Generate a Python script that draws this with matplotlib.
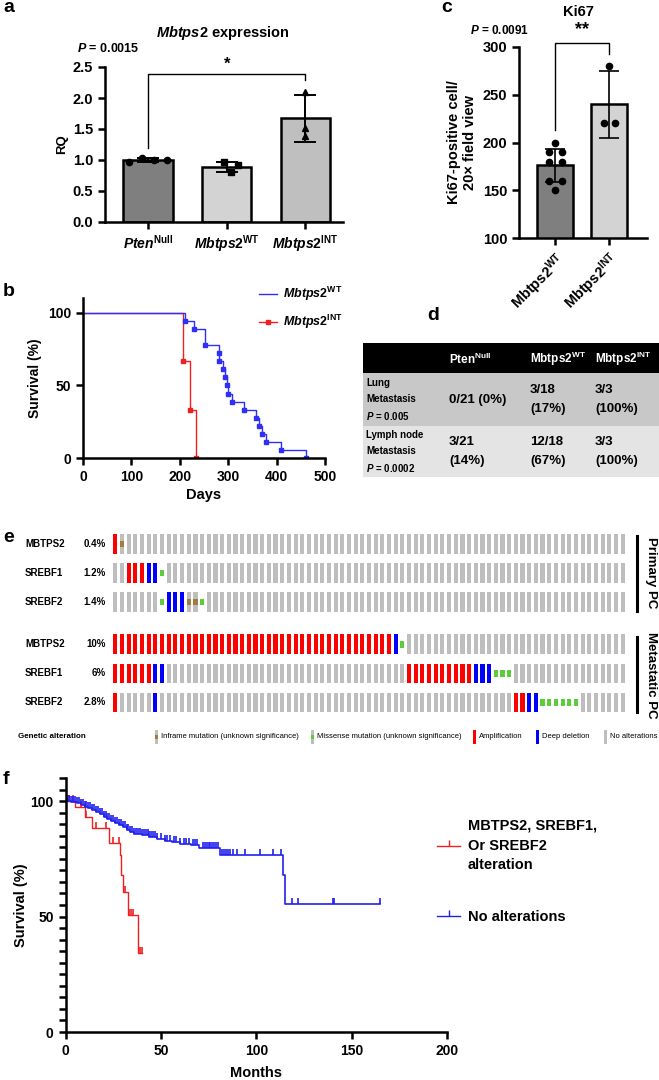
import matplotlib
matplotlib.use("Agg")
import matplotlib.pyplot as plt
import numpy as np
from matplotlib.patches import Rectangle
from matplotlib.lines import Line2D
from matplotlib.ticker import MultipleLocator

plt.rcParams['font.family'] = ['Liberation Sans', 'DejaVu Sans']
plt.rcParams['font.weight'] = 'bold'
plt.rcParams['axes.labelweight'] = 'bold'
plt.rcParams['mathtext.fontset'] = 'custom'
plt.rcParams['mathtext.rm'] = 'Liberation Sans'
plt.rcParams['mathtext.it'] = 'Liberation Sans:italic:bold'
plt.rcParams['mathtext.bf'] = 'Liberation Sans:bold'

# ---- data ----
# a: Mbtps2 expression (RQ)
a_labels = [r"$\mathit{Pten}^{\mathrm{Null}}$", r"$\mathit{Mbtps2}^{\mathrm{WT}}$", r"$\mathit{Mbtps2}^{\mathrm{INT}}$"]
a_means = [1.00, 0.89, 1.67]
a_sd = [0.03, 0.08, 0.38]
a_pts = [[0.96, 1.04, 1.00, 1.00], [0.96, 0.92, 0.80], [2.10, 1.51, 1.39]]

# c: Ki67
c_labels = [r"Mbtps2$^{\mathrm{WT}}$", r"Mbtps2$^{\mathrm{INT}}$"]
c_means = [176, 240]
c_sd = [17, 35]
c_pts = [[200, 190, 190, 180, 180, 160, 160, 150], [280, 220, 220]]

# b: mouse survival (days, %)
b_wt_t = [0, 211, 230, 252, 280, 282, 290, 293, 298, 300, 308, 333, 358, 364, 370, 378, 410, 460]
b_wt_s = [100, 94.4, 88.9, 77.8, 72.2, 66.7, 61.1, 55.6, 50.0, 44.4, 38.9, 33.3, 27.8, 22.2, 16.7, 11.1, 5.6, 0]
b_int_t = [0, 206, 221, 233]
b_int_s = [100, 66.7, 33.3, 0]

# d: metastasis table
d_cols = [r"$\mathbf{Pten}^{\mathbf{Null}}$", r"$\mathbf{Mbtps2}^{\mathbf{WT}}$", r"$\mathbf{Mbtps2}^{\mathbf{INT}}$"]
d_rows = [["Lung", "Metastasis", r"$\mathit{P}$ = 0.005"],
          ["Lymph node", "Metastasis", r"$\mathit{P}$ = 0.0002"]]
d_cells = [["0/21 (0%)", "3/18\n(17%)", "3/3\n(100%)"],
           ["3/21\n(14%)", "12/18\n(67%)", "3/3\n(100%)"]]

# e: oncoprint
onc_genes = ["MBTPS2", "SREBF1", "SREBF2", "MBTPS2", "SREBF1", "SREBF2"]
onc_pct = ["0.4%", "1.2%", "1.4%", "10%", "6%", "2.8%"]
n_samples = 77
onc_amp = [[0], [2, 3, 4], [], list(range(0, 42)), list(range(0, 6)) + list(range(44, 54)), [0, 60, 61]]
onc_del = [[], [5, 6], [8, 9, 10], [42], [6, 7, 54, 55, 56], [6, 62, 63]]
onc_mis = [[], [7], [7, 13], [43], [57, 58, 59], [64, 65, 66, 67, 68, 69]]
onc_inf = [[1], [], [11, 12], [], [], []]
onc_legend = ["Inframe mutation (unknown significance)", "Missense mutation (unknown significance)",
              "Amplification", "Deep deletion", "No alterations"]

# f: patient survival (months, %)
f_alt_t = [0, 5, 10, 14, 23, 28.5, 29, 30, 33, 38, 40]
f_alt_s = [100, 97.3, 93.2, 88.2, 82, 76.5, 68, 60.8, 50.6, 34, 34]
f_alt_c = [2, 4, 8, 11, 16, 21, 25, 28, 31, 33.5, 34.5, 35.5, 39, 40]
f_no_t = [0, 3, 6, 8, 10, 12, 14, 16, 18, 20, 22, 24, 26, 28, 30, 32, 34, 36, 40, 44, 48, 52, 56,
          60, 66, 70, 81, 114, 115, 165]
f_no_s = [100, 99.5, 99, 98.3, 97.5, 96.8, 96, 95.2, 94.3, 93.3, 92.4, 91.5, 90.5, 89.5, 88.6, 87.5,
          86.5, 85.8, 85.3, 84.5, 83.6, 82.8, 82.4, 81.6, 81.2, 79.5, 76.6, 67.9, 55.6, 55.6]
f_no_c = [1, 2, 3, 4, 5, 6, 7, 8, 9, 10, 11, 12, 13, 14, 15, 16, 17, 18, 19, 20, 21, 22, 23, 24, 25,
          26, 27, 28, 29, 30, 31, 32, 33, 34, 35, 36, 37, 38, 39, 40, 41, 42, 43, 44, 45, 46, 47, 48,
          50, 52, 53, 55, 57, 58, 60, 62, 63, 65, 67, 68, 69, 72, 73, 74, 75, 76, 77, 78, 79, 80, 82,
          83, 84, 85, 86, 88, 90, 94, 102, 109, 113, 119, 122, 140, 141, 165]

# ---- layout helpers ----
W, H = 659, 1080
fig = plt.figure(figsize=(W / 100, H / 100), dpi=100)


def box(l, t, r, b):
    return [l / W, 1 - b / H, (r - l) / W, (b - t) / H]


def style(ax, lw=1.8):
    for s in ['top', 'right']:
        ax.spines[s].set_visible(False)
    for s in ['left', 'bottom']:
        ax.spines[s].set_linewidth(lw)
    ax.tick_params(width=lw, length=5, direction='out')


ov = fig.add_axes([0, 0, 1, 1])
ov.set_xlim(0, W)
ov.set_ylim(H, 0)
ov.axis('off')
ov.patch.set_alpha(0)

for letter, (lx, ly) in zip("abcdef", [(3, 8), (3, 291), (441, 7), (427, 315), (3, 537), (3, 779)]):
    ov.text(lx, ly, letter, fontsize=14, fontweight='bold', va='center', ha='left')

# ---- a ----
axa = fig.add_axes(box(105, 67, 343, 222))
style(axa)
xa = np.arange(len(a_means))
axa.bar(xa, a_means, width=0.63, color=['#7f7f7f', '#d3d3d3', '#bfbfbf'], edgecolor='black',
        linewidth=1.8, zorder=2)
axa.errorbar(xa, a_means, yerr=a_sd, fmt='none', ecolor='black', elinewidth=1.4, capsize=8,
             capthick=1.4, zorder=3)
a_jit = [[-0.24, -0.08, 0.08, 0.24], [-0.03, 0.14, 0.06], [0, 0, 0]]
for i, mk in enumerate(['o', 's', '^']):
    axa.plot(xa[i] + np.array(a_jit[i]), a_pts[i], mk, color='black', ms=4.5, zorder=4, clip_on=False)
axa.plot([0, 0, 2, 2], [1.19, 2.39, 2.39, 2.29], color='black', lw=1, clip_on=False)
axa.text(1, 2.42, "*", ha='center', va='bottom', fontsize=12)
axa.set_xlim(-0.55, 2.48)
axa.set_ylim(0, 2.5)
axa.set_yticks([0, 0.5, 1.0, 1.5, 2.0, 2.5])
axa.set_yticklabels(["0.0", "0.5", "1.0", "1.5", "2.0", "2.5"], fontsize=10.5)
axa.set_xticks(xa)
axa.set_xticklabels(a_labels, fontsize=10)
axa.set_ylabel("RQ", fontsize=9.5, labelpad=3)
ov.text(223, 33, r"$\mathit{Mbtps2}$ expression", ha='center', va='center', fontsize=10.5)
ov.text(77, 48, r"$\mathit{P}$ = 0.0015", ha='left', va='center', fontsize=9)

# ---- c ----
axc = fig.add_axes(box(519, 47, 647, 238))
style(axc)
xc = np.arange(len(c_means))
axc.bar(xc, c_means, width=0.67, color=['#7f7f7f', '#d3d3d3'], edgecolor='black', linewidth=1.8,
        zorder=2, bottom=0)
axc.errorbar(xc, c_means, yerr=c_sd, fmt='none', ecolor='black', elinewidth=1.2, capsize=7,
             capthick=1.2, zorder=3)
c_jit = [[0, -0.12, 0.12, -0.12, 0.12, -0.12, 0.12, 0], [0, -0.1, 0.1]]
for i in range(len(c_means)):
    axc.plot(xc[i] + np.array(c_jit[i]), c_pts[i], 'o', color='black', ms=4.5, zorder=4, clip_on=False)
axc.plot([0, 0, 1, 1], [213, 304, 304, 293], color='black', lw=1, clip_on=False)
axc.text(0.5, 309, "**", ha='center', va='bottom', fontsize=13)
axc.set_xlim(-0.67, 1.7)
axc.set_ylim(100, 300)
axc.set_yticks([100, 150, 200, 250, 300])
axc.tick_params(axis='y', labelsize=10.5)
axc.set_xticks(xc)
axc.set_xticklabels(c_labels, fontsize=10.5, rotation=45, ha='right', rotation_mode='anchor')
axc.set_ylabel("Ki67-positive cell/\n20× field view", fontsize=10.5, labelpad=4)
ov.text(578, 12, "Ki67", ha='center', va='center', fontsize=10.5)
ov.text(470, 30, r"$\mathit{P}$ = 0.0091", ha='left', va='center', fontsize=8.5)

# ---- b ----
axb = fig.add_axes(box(83, 298.5, 325, 458))
style(axb)
axb.step(b_int_t, b_int_s, where='post', color='#f02020', lw=1)
axb.step(b_wt_t, b_wt_s, where='post', color='#2f2ff5', lw=1)
axb.plot(b_wt_t[1:], b_wt_s[1:], 's', color='#2f2ff5', ms=2.2)
axb.plot(b_int_t[1:], b_int_s[1:], 's', color='#f02020', ms=2.2)
axb.set_xlim(0, 500)
axb.set_ylim(0, 110)
axb.set_xticks([0, 100, 200, 300, 400, 500])
axb.set_yticks([0, 50, 100])
axb.tick_params(labelsize=10)
axb.set_xlabel("Days", fontsize=10.5, labelpad=3)
axb.set_ylabel("Survival (%)", fontsize=10, labelpad=4)
ov.text(90, 447, r"$\mathit{P}$ = <0.0001", ha='left', va='center', fontsize=9)
hb = [Line2D([], [], color='#2f2ff5', lw=1),
      Line2D([], [], color='#f02020', lw=1, marker='s', ms=2.2)]
fig.legend(hb, [r"$\mathit{Mbtps2}^{\mathrm{WT}}$", r"$\mathit{Mbtps2}^{\mathrm{INT}}$"],
           loc='upper left', bbox_to_anchor=(259 / W, 1 - 285 / H), frameon=False, fontsize=9,
           handlelength=1.4, handletextpad=0.5, borderpad=0, borderaxespad=0, labelspacing=0.8)

# ---- d ----
tl, tr = 363, 659
ov.add_patch(Rectangle((tl, 343), tr - tl, 30, color='black', lw=0))
ov.add_patch(Rectangle((tl, 373), tr - tl, 53, color='#c8c8c8', lw=0))
ov.add_patch(Rectangle((tl, 426), tr - tl, 51, color='#e4e4e4', lw=0))
col_x = [449, 530, 595]
for j, h in enumerate(d_cols):
    ov.text(col_x[j], 359, h, color='white', fontsize=8.5, ha='left', va='center')
row_c = [399.5, 451.5]
for i in range(len(d_rows)):
    for k, off in enumerate([-16, -1, 17]):
        ov.text(366, row_c[i] + off, d_rows[i][k], fontsize=7, ha='left', va='center')
    for j in range(len(d_cols)):
        ov.text(col_x[j], row_c[i], d_cells[i][j], fontsize=9.5, ha='left', va='center',
                linespacing=1.75)

# ---- e ----
axe = fig.add_axes(box(113, 529.5, 627, 717))
axe.axis('off')
axe.set_xlim(-0.35, n_samples - 0.35)
row_y = [0, 1, 2, 3.45, 4.45, 5.45]
axe.set_ylim(5.95, -0.5)
bw, bh = 0.62, 0.68
for r, y in enumerate(row_y):
    filled = set(onc_amp[r]) | set(onc_del[r]) | set(onc_mis[r])
    gray = [c for c in range(n_samples) if c not in filled]
    axe.bar(gray, bh, width=bw, bottom=y - bh / 2, color='#bebebe', lw=0)
    axe.bar(onc_amp[r], bh, width=bw, bottom=y - bh / 2, color='#ff0000', lw=0)
    axe.bar(onc_del[r], bh, width=bw, bottom=y - bh / 2, color='#0000ff', lw=0)
    axe.bar(onc_mis[r], bh / 3, width=bw, bottom=y - bh / 6, color='#5ccc3a', lw=0)
    axe.bar(onc_inf[r], bh / 3, width=bw, bottom=y - bh / 6, color='#a07d3c', lw=0)
    yp = 544 + (y) * 29
    ov.text(25, yp, onc_genes[r], fontsize=7, ha='left', va='center')
    ov.text(106, yp, onc_pct[r], fontsize=7, ha='right', va='center')
ov.plot([637, 637], [536, 611], color='black', lw=2.2)
ov.plot([637, 637], [637, 712], color='black', lw=2.2)
ov.text(651, 573, "Primary PC", rotation=-90, fontsize=9.5, ha='center', va='center')
ov.text(651, 675, "Metastatic PC", rotation=-90, fontsize=9.5, ha='center', va='center')
ov.text(18, 737, "Genetic alteration", fontsize=5.8, ha='left', va='center')
leg_x = [156, 312, 474, 537, 605]
leg_c = ['#a07d3c', '#5ccc3a', '#ff0000', '#0000ff', '#bebebe']
for k, lab in enumerate(onc_legend):
    if k < 2:
        ov.add_patch(Rectangle((leg_x[k] - 1.5, 730), 3, 14, color='#bebebe', lw=0))
        ov.add_patch(Rectangle((leg_x[k] - 1.5, 735), 3, 4, color=leg_c[k], lw=0))
    else:
        ov.add_patch(Rectangle((leg_x[k] - 1.5, 730), 3, 14, color=leg_c[k], lw=0))
    ov.text(leg_x[k] + 5, 737, lab, fontsize=5.5, fontweight='normal', ha='left', va='center')

# ---- f ----
axf = fig.add_axes(box(65.5, 778, 447, 1032))
style(axf)
axf.step(f_alt_t, f_alt_s, where='post', color='#f02020', lw=1)
axf.step(f_no_t, f_no_s, where='post', color='#2020f0', lw=1.2)
for ct, tt, ss, col in [(f_alt_c, f_alt_t, f_alt_s, '#f02020'), (f_no_c, f_no_t, f_no_s, '#2020f0')]:
    idx = np.searchsorted(tt, ct, side='right') - 1
    axf.plot(ct, np.array(ss)[idx], linestyle='none', marker=2, ms=4, mew=1.2, color=col)
axf.set_xlim(0, 200)
axf.set_ylim(0, 110)
axf.set_xticks([0, 50, 100, 150, 200])
axf.set_yticks([0, 50, 100])
axf.yaxis.set_minor_locator(MultipleLocator(5))
axf.tick_params(which='minor', width=1.8, length=5)
axf.tick_params(labelsize=10)
axf.set_xlabel("Months", fontsize=10.5, labelpad=6)
axf.set_ylabel("Survival (%)", fontsize=10.5, labelpad=2)
ov.text(78, 1011, r"$\mathit{P}$ = 0.0002", ha='left', va='center', fontsize=9)
hf = [Line2D([], [], color='#f02020', lw=1, marker=2, ms=4),
      Line2D([], [], color='#2020f0', lw=1, marker=2, ms=4)]
fig.legend(hf, ["MBTPS2, SREBF1,\nOr SREBF2\nalteration", "No alterations"], loc='upper left',
           bbox_to_anchor=(437 / W, 1 - 819 / H), frameon=False, fontsize=10.5, handlelength=1.6,
           handletextpad=0.5, borderpad=0, borderaxespad=0, labelspacing=2.6)
for t in fig.legends[-1].get_texts():
    t.set_linespacing(1.5)

fig.savefig("out.png", dpi=100)
